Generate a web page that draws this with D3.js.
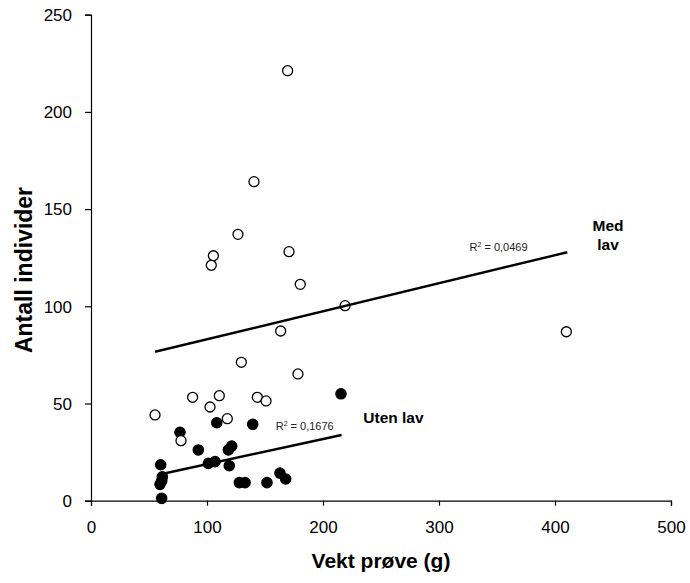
<!DOCTYPE html>
<html>
<head>
<meta charset="utf-8">
<script src="https://cdn.jsdelivr.net/npm/d3@7"></script>
<style>
  html, body { margin: 0; padding: 0; background: #fff; }
  svg text { font-family: "Liberation Sans", Arial, sans-serif; }
</style>
</head>
<body>
<svg id="chart" width="690" height="583"></svg>
<script>
// ---- data ----
const xTicks = [0, 100, 200, 300, 400, 500];
const yTicks = [0, 50, 100, 150, 200, 250];

// "Med lav" (open circles)
const medX = [55.2, 77.6, 87.6, 102.6, 110.6, 117.5, 129.6, 143.4, 150.9, 163.5, 178.4, 219.0, 169.5, 140.5, 126.7, 105.5, 103.7, 170.7, 180.4, 409.8];
const medY = [44.1, 30.9, 53.2, 48.2, 54.0, 42.2, 71.2, 53.2, 51.3, 87.3, 65.2, 100.3, 221.2, 164.1, 137.0, 126.0, 121.1, 128.1, 111.3, 86.9];

// "Uten lav" (filled circles)
const utenX = [60.9, 59.5, 61.0, 61.5, 60.1, 76.7, 92.5, 101.2, 106.9, 108.4, 118.4, 121.3, 119.2, 127.9, 132.8, 139.4, 151.7, 162.9, 167.8, 215.5];
const utenY = [1.2, 8.4, 10.2, 12.3, 18.5, 35.2, 26.1, 19.2, 20.1, 40.1, 26.1, 28.1, 18.0, 9.3, 9.3, 39.3, 9.3, 14.2, 11.2, 55.0];

// trend lines (endpoints)
const medTrendX = [55.2, 410.6];
const medTrendY = [76.6, 127.8];
const utenTrendX = [60.0, 216.0];
const utenTrendY = [13.6, 33.8];

const medR2 = "0,0469";
const utenR2 = "0,1676";

// ---- drawing ----
const svg = d3.select("#chart");
const x = d3.scaleLinear().domain([0, 500]).range([91, 671]);
const y = d3.scaleLinear().domain([0, 250]).range([500.7, 14.7]);

const xAxis = svg.append("g")
  .attr("transform", `translate(0,${y(0)})`)
  .call(d3.axisBottom(x).tickValues(xTicks).tickSize(5).tickPadding(15).tickFormat(d3.format("d")));
const yAxis = svg.append("g")
  .attr("transform", `translate(${x(0)},0)`)
  .call(d3.axisLeft(y).tickValues(yTicks).tickSize(6).tickPadding(13).tickFormat(d3.format("d")));

[xAxis, yAxis].forEach(a => {
  a.select(".domain").attr("stroke", "#000").attr("stroke-width", 1.2);
  a.selectAll(".tick line").attr("stroke", "#000").attr("stroke-width", 1.2);
  a.selectAll(".tick text").attr("fill", "#000")
    .style("font-family", "'Liberation Sans', Arial, sans-serif")
    .style("font-size", "17px");
});
yAxis.selectAll(".tick text").attr("dy", "0.34em");

// filled points
const uten = utenX.map((v, i) => ({ x: v, y: utenY[i] }));
const med = medX.map((v, i) => ({ x: v, y: medY[i] }));

svg.append("g").selectAll("circle").data(uten).join("circle")
  .attr("cx", d => x(d.x)).attr("cy", d => y(d.y)).attr("r", 5.2)
  .attr("fill", "#000").attr("stroke", "#000").attr("stroke-width", 1.2);

svg.append("g").selectAll("circle").data(med).join("circle")
  .attr("cx", d => x(d.x)).attr("cy", d => y(d.y)).attr("r", 5)
  .attr("fill", "#fff").attr("stroke", "#000").attr("stroke-width", 1.3);

// trend lines
const line = d3.line().x(d => x(d[0])).y(d => y(d[1]));
svg.append("path").datum(medTrendX.map((v, i) => [v, medTrendY[i]]))
  .attr("d", line).attr("fill", "none").attr("stroke", "#000").attr("stroke-width", 2.4);
svg.append("path").datum(utenTrendX.map((v, i) => [v, utenTrendY[i]]))
  .attr("d", line).attr("fill", "none").attr("stroke", "#000").attr("stroke-width", 2.4);

// R² labels
function r2Label(px, py, val) {
  const t = svg.append("text").attr("x", px).attr("y", py)
    .attr("font-size", 11).attr("fill", "#222");
  t.append("tspan").text("R");
  t.append("tspan").attr("font-size", 7).attr("dy", -4).text("2");
  t.append("tspan").attr("dy", 4).text(" = " + val);
}
r2Label(469.5, 250.7, medR2);
r2Label(275.7, 429.7, utenR2);

// series labels
svg.append("text").attr("x", 608).attr("y", 231).attr("text-anchor", "middle")
  .attr("font-size", 15.5).attr("font-weight", "bold").attr("fill", "#000").text("Med");
svg.append("text").attr("x", 608).attr("y", 250).attr("text-anchor", "middle")
  .attr("font-size", 15.5).attr("font-weight", "bold").attr("fill", "#000").text("lav");
svg.append("text").attr("x", 363.3).attr("y", 422.7)
  .attr("font-size", 15.5).attr("font-weight", "bold").attr("fill", "#000").text("Uten lav");

// axis titles
svg.append("text").attr("x", 381).attr("y", 567.5).attr("text-anchor", "middle")
  .attr("font-size", 21).attr("font-weight", "bold").attr("fill", "#000").text("Vekt prøve (g)");
svg.append("text").attr("transform", "translate(32,270) rotate(-90)").attr("text-anchor", "middle")
  .attr("font-size", 23).attr("font-weight", "bold").attr("fill", "#000").text("Antall individer");
</script>
</body>
</html>
